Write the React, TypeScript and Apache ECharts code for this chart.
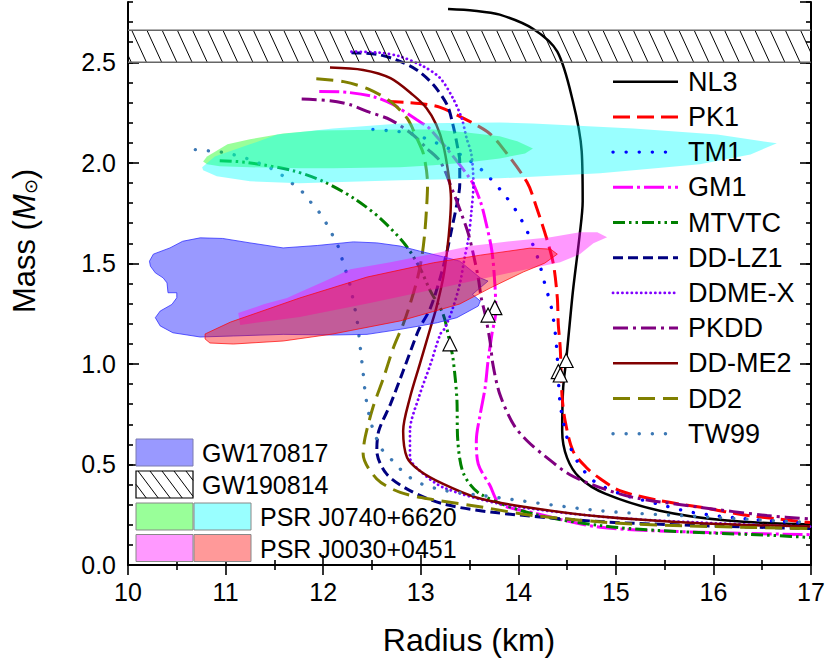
import React, { useEffect, useRef } from "react";
import * as echarts from "echarts";

// ---------------- data ----------------
const radiusMin = 10;
const radiusMax = 17;
const massMin = 0;
const massMax = 2.8;

const eosNames = ["NL3", "PK1", "TM1", "GM1", "MTVTC", "DD-LZ1", "DDME-X", "PKDD", "DD-ME2", "DD2", "TW99"];

const NL3 = [[13.28, 2.765], [13.55, 2.757], [13.81, 2.737], [14.15, 2.667], [14.40, 2.553], [14.56, 2.305], [14.65, 2.057], [14.66, 1.809], [14.63, 1.645], [14.56, 1.362], [14.52, 1.164], [14.49, 1.015], [14.46, 0.881], [14.45, 0.667], [14.50, 0.533], [14.63, 0.434], [14.89, 0.355], [15.45, 0.270], [16.14, 0.221], [16.99, 0.201]];
const PK1 = [[12.65, 2.305], [12.99, 2.295], [13.20, 2.276], [13.42, 2.226], [13.68, 2.156], [13.81, 2.092], [14.09, 1.903], [14.19, 1.774], [14.29, 1.625], [14.36, 1.496], [14.40, 1.328], [14.41, 1.198], [14.43, 1.079], [14.44, 0.94], [14.45, 0.831], [14.48, 0.717], [14.56, 0.568], [14.70, 0.484], [14.84, 0.429], [15.04, 0.370], [15.45, 0.320], [15.96, 0.280], [16.30, 0.250], [16.99, 0.211]];
const TM1 = [[12.51, 2.166], [12.65, 2.161], [12.90, 2.146], [13.17, 2.097], [13.42, 2.037], [13.63, 1.963], [13.82, 1.864], [13.98, 1.760], [14.10, 1.650], [14.20, 1.527], [14.27, 1.402], [14.34, 1.278], [14.38, 1.149], [14.40, 1.030], [14.43, 0.800], [14.50, 0.633], [14.60, 0.519], [14.77, 0.419], [15.04, 0.355], [15.42, 0.305], [15.79, 0.261], [16.30, 0.231], [16.99, 0.206]];
const GM1 = [[11.96, 2.355], [12.24, 2.351], [12.51, 2.330], [12.72, 2.289], [12.96, 2.214], [13.10, 2.166], [13.51, 1.918], [13.61, 1.810], [13.67, 1.700], [13.73, 1.560], [13.76, 1.397], [13.77, 1.263], [13.73, 1.149], [13.69, 1.015], [13.66, 0.881], [13.61, 0.750], [13.57, 0.618], [13.59, 0.502], [13.71, 0.395], [13.81, 0.305], [14.15, 0.260], [14.84, 0.188], [15.86, 0.163], [16.99, 0.151]];
const MTVTC = [[10.94, 2.011], [11.22, 2.002], [11.69, 1.961], [12.00, 1.908], [12.31, 1.825], [12.58, 1.726], [12.84, 1.594], [12.99, 1.478], [13.10, 1.362], [13.23, 1.247], [13.30, 1.100], [13.33, 1.031], [13.37, 0.833], [13.38, 0.618], [13.44, 0.453], [13.61, 0.353], [14.15, 0.254], [14.84, 0.196], [15.45, 0.171], [16.65, 0.146], [16.99, 0.137]];
const DDLZ1 = [[12.29, 2.548], [12.55, 2.540], [12.75, 2.512], [12.96, 2.462], [13.13, 2.388], [13.27, 2.289], [13.33, 2.190], [13.38, 2.073], [13.40, 2.007], [13.40, 1.892], [13.37, 1.793], [13.32, 1.676], [13.27, 1.561], [13.20, 1.428], [13.10, 1.279], [12.99, 1.180], [12.96, 1.147], [12.82, 0.965], [12.69, 0.800], [12.57, 0.667], [12.55, 0.568], [12.65, 0.453], [12.89, 0.370], [13.23, 0.304], [13.74, 0.262], [14.84, 0.216], [15.86, 0.196], [16.99, 0.181]];
const DDMEX = [[12.29, 2.553], [12.58, 2.548], [12.79, 2.529], [13.03, 2.479], [13.20, 2.421], [13.33, 2.322], [13.42, 2.222], [13.47, 2.123], [13.52, 2.041], [13.54, 1.892], [13.52, 1.759], [13.49, 1.627], [13.45, 1.528], [13.40, 1.396], [13.33, 1.279], [13.25, 1.180], [13.20, 1.147], [13.10, 0.998], [12.98, 0.833], [12.89, 0.667], [12.89, 0.535], [12.99, 0.469], [13.23, 0.386], [13.81, 0.305], [14.84, 0.241], [15.86, 0.211], [16.99, 0.191]];
const PKDD = [[11.78, 2.317], [12.07, 2.309], [12.28, 2.289], [12.45, 2.256], [12.69, 2.214], [12.92, 2.140], [13.06, 2.073], [13.20, 2.007], [13.33, 1.859], [13.42, 1.743], [13.49, 1.644], [13.54, 1.544], [13.59, 1.428], [13.62, 1.329], [13.66, 1.247], [13.71, 1.114], [13.74, 0.998], [13.81, 0.850], [13.95, 0.700], [14.09, 0.618], [14.29, 0.535], [14.53, 0.449], [14.84, 0.385], [15.18, 0.336], [15.86, 0.287], [16.55, 0.246], [16.99, 0.229]];
const DDME2 = [[12.07, 2.474], [12.41, 2.462], [12.69, 2.421], [12.92, 2.338], [13.06, 2.272], [13.16, 2.190], [13.23, 2.090], [13.28, 1.958], [13.31, 1.825], [13.30, 1.710], [13.27, 1.561], [13.23, 1.428], [13.16, 1.279], [13.10, 1.180], [12.99, 0.998], [12.89, 0.833], [12.82, 0.667], [12.86, 0.535], [12.99, 0.469], [13.23, 0.403], [13.57, 0.336], [14.09, 0.287], [14.84, 0.241], [15.86, 0.208], [16.99, 0.191]];
const DD2 = [[11.93, 2.418], [12.21, 2.404], [12.46, 2.368], [12.69, 2.305], [12.86, 2.222], [12.96, 2.123], [13.03, 2.041], [13.07, 1.892], [13.06, 1.776], [13.04, 1.644], [13.01, 1.528], [12.96, 1.412], [12.89, 1.296], [12.82, 1.197], [12.72, 1.081], [12.62, 0.932], [12.51, 0.783], [12.43, 0.634], [12.41, 0.552], [12.55, 0.428], [12.79, 0.361], [13.13, 0.325], [13.64, 0.287], [14.15, 0.246], [15.18, 0.204], [16.99, 0.181]];
const TW99 = [[10.69, 2.066], [10.82, 2.060], [10.95, 2.054], [11.08, 2.041], [11.22, 2.021], [11.34, 1.999], [11.46, 1.974], [11.58, 1.938], [11.69, 1.895], [11.79, 1.854], [11.88, 1.800], [11.96, 1.754], [12.03, 1.701], [12.09, 1.647], [12.15, 1.589], [12.19, 1.528], [12.23, 1.467], [12.27, 1.403], [12.30, 1.337], [12.35, 1.209], [12.38, 1.084], [12.41, 0.955], [12.44, 0.826], [12.50, 0.692], [12.60, 0.577], [12.71, 0.519], [12.79, 0.477], [12.89, 0.435], [13.01, 0.403], [13.25, 0.370], [13.64, 0.345], [14.84, 0.270], [15.86, 0.241], [16.99, 0.211]];

const eosCurves = [NL3, PK1, TM1, GM1, MTVTC, DDLZ1, DDMEX, PKDD, DDME2, DD2, TW99];

// direct Urca onset markers (radius, mass)
const urcaPoints = [[13.76, 1.28], [13.69, 1.243], [13.30, 1.10], [14.49, 1.017], [14.41, 0.962], [14.43, 0.945]];

const obsLabels = ["GW170817", "GW190814", "PSR J0740+6620", "PSR J0030+0451"];
const gw190814Mass = [2.5, 2.66];
const gw170817 = [[10.22, 1.511], [10.26, 1.546], [10.43, 1.577], [10.56, 1.610], [10.74, 1.627], [10.97, 1.624], [11.25, 1.602], [11.59, 1.577], [11.94, 1.589], [12.31, 1.607], [12.55, 1.602], [12.79, 1.586], [12.99, 1.561], [13.27, 1.528], [13.40, 1.511], [13.61, 1.428], [13.69, 1.412], [13.53, 1.346], [13.61, 1.313], [13.59, 1.288], [13.37, 1.230], [13.17, 1.205], [12.99, 1.189], [12.79, 1.172], [12.45, 1.147], [12.10, 1.144], [11.59, 1.147], [11.08, 1.139], [10.74, 1.134], [10.46, 1.155], [10.33, 1.189], [10.28, 1.230], [10.33, 1.263], [10.45, 1.296], [10.50, 1.329], [10.50, 1.354], [10.41, 1.354], [10.40, 1.403], [10.36, 1.428], [10.28, 1.453], [10.23, 1.486]];
const j0740Green = [[10.77, 2.007], [10.81, 2.032], [11.02, 2.092], [11.25, 2.117], [11.59, 2.146], [11.94, 2.161], [12.79, 2.166], [13.13, 2.166], [13.47, 2.151], [13.81, 2.132], [13.99, 2.107], [14.15, 2.072], [14.07, 2.047], [13.81, 2.022], [13.47, 2.002], [13.13, 1.988], [12.79, 1.978], [12.10, 1.973], [11.76, 1.973], [11.25, 1.978], [10.94, 1.983], [10.81, 1.993]];
const j0740Cyan = [[10.76, 1.978], [10.89, 2.032], [11.25, 2.092], [11.53, 2.141], [12.10, 2.171], [12.79, 2.196], [13.81, 2.201], [14.15, 2.196], [15.18, 2.171], [16.04, 2.141], [16.65, 2.097], [16.38, 2.042], [15.86, 1.993], [14.84, 1.948], [13.81, 1.923], [12.79, 1.913], [11.76, 1.898], [11.25, 1.908], [10.91, 1.933], [10.77, 1.963]];
const j0030Magenta = [[11.13, 1.253], [11.40, 1.298], [11.63, 1.328], [11.76, 1.357], [12.02, 1.412], [12.28, 1.471], [12.69, 1.506], [13.10, 1.546], [13.51, 1.586], [13.92, 1.610], [14.33, 1.630], [14.63, 1.655], [14.81, 1.655], [14.91, 1.630], [14.77, 1.600], [14.63, 1.546], [14.43, 1.506], [13.81, 1.442], [13.20, 1.377], [12.48, 1.303], [11.76, 1.233], [11.15, 1.194]];
const j0030Red = [[10.79, 1.149], [11.05, 1.208], [11.76, 1.328], [12.45, 1.432], [13.13, 1.503], [13.61, 1.541], [14.12, 1.576], [14.33, 1.571], [14.40, 1.546], [14.27, 1.501], [14.05, 1.457], [13.71, 1.377], [13.40, 1.298], [12.79, 1.214], [12.10, 1.149], [11.59, 1.114], [11.08, 1.099], [10.84, 1.104], [10.79, 1.124]];

// ---------------- styles ----------------
const FONT = "'Liberation Sans', Arial, Helvetica, sans-serif";
const lineStyles: any[] = [
  { color: "#000000", width: 2.5, type: "solid", cap: "butt" },
  { color: "#FF0000", width: 3, type: [17, 7], cap: "butt" },
  { color: "#0000FF", width: 3.4, type: [0.1, 13], cap: "round" },
  { color: "#FF00FF", width: 3, type: [20, 4, 3, 4], cap: "butt" },
  { color: "#008000", width: 3, type: [12, 4, 2.5, 4, 2.5, 4], cap: "butt" },
  { color: "#000080", width: 3, type: [10, 5], cap: "butt" },
  { color: "#8000FF", width: 2.8, type: [0.1, 4.6], cap: "round" },
  { color: "#800080", width: 3, type: [15, 5, 3, 5], cap: "butt" },
  { color: "#800000", width: 2.5, type: "solid", cap: "butt" },
  { color: "#808000", width: 3, type: [17, 8], cap: "butt" },
  { color: "#3C78B4", width: 3.4, type: [0.1, 13], cap: "round" },
];

function polygonSeries(name: string, pts: number[][], fill: string, stroke: string | null, z: number) {
  return {
    type: "custom",
    name,
    silent: true,
    z,
    xAxisIndex: 0,
    yAxisIndex: 0,
    data: [pts[0]],
    renderItem: (_p: any, api: any) => ({
      type: "polygon",
      shape: { points: pts.map((p) => api.coord(p)) },
      style: { fill, stroke: stroke || "none", lineWidth: stroke ? 1 : 0 },
    }),
  };
}

function hatchLines(left: number, top: number, right: number, bottom: number, step: number, slope: number, phase: number, color: string, lw: number) {
  const h = bottom - top;
  const out: any[] = [];
  const startX = left + phase - Math.ceil((h * slope) / step + 1) * step;
  for (let xt = startX; xt < right; xt += step) {
    let x1 = xt, y1 = top, x2 = xt + h * slope, y2 = bottom;
    if (x1 < left) { y1 = top + (left - xt) / slope; x1 = left; }
    if (x2 > right) { y2 = top + (right - xt) / slope; x2 = right; }
    if (y2 - y1 < 0.5) continue;
    out.push({ type: "line", shape: { x1, y1, x2, y2 }, style: { stroke: color, lineWidth: lw } });
  }
  return out;
}

export default function App() {
  const ref = useRef<HTMLDivElement>(null);
  useEffect(() => {
    if (!ref.current) return;
    document.body.style.margin = "0";
    const chart = echarts.init(ref.current, null, { renderer: "svg" });

    const axisLine = { show: true, lineStyle: { color: "#000", width: 2 } };
    const majorTick = (len: number) => ({ show: true, inside: true, length: len, lineStyle: { color: "#000", width: 1.6 } });

    const curveSeries = eosCurves.map((d, i) => ({
      type: "line",
      name: eosNames[i],
      data: d,
      xAxisIndex: 0,
      yAxisIndex: 0,
      showSymbol: false,
      symbol: "none",
      smooth: 0.3,
      silent: true,
      z: 2,
      lineStyle: { color: lineStyles[i].color, width: lineStyles[i].width, type: lineStyles[i].type, cap: lineStyles[i].cap },
    }));

    const hatchSeries = {
      type: "custom",
      name: "GW190814",
      silent: true,
      z: 6,
      xAxisIndex: 0,
      yAxisIndex: 0,
      data: [[radiusMin, gw190814Mass[0], radiusMax, gw190814Mass[1]]],
      encode: { x: [0, 2], y: [1, 3] },
      renderItem: (_p: any, api: any) => {
        const tl = api.coord([api.value(0), api.value(3)]);
        const br = api.coord([api.value(2), api.value(1)]);
        const children = hatchLines(tl[0], tl[1], br[0], br[1], 15.2, 0.46, 3.7, "#000", 1);
        children.push({ type: "line", shape: { x1: tl[0], y1: tl[1], x2: br[0], y2: tl[1] }, style: { stroke: "#666", lineWidth: 1.5 } });
        children.push({ type: "line", shape: { x1: tl[0], y1: br[1], x2: br[0], y2: br[1] }, style: { stroke: "#666", lineWidth: 1.5 } });
        return { type: "group", children };
      },
    };

    // right legend
    const legendX1 = 613, legendX2 = 678, legendTextX = 688, legendY0 = 81.7, legendDy = 35.2;
    const legendGraphics: any[] = [];
    eosNames.forEach((n, i) => {
      const y = legendY0 + i * legendDy;
      const ls = lineStyles[i];
      legendGraphics.push({
        type: "line",
        shape: { x1: legendX1, y1: y, x2: legendX2, y2: y },
        style: { stroke: ls.color, lineWidth: ls.width, lineDash: ls.type === "solid" ? null : ls.type, lineCap: ls.cap },
        z: 20,
      });
      legendGraphics.push({
        type: "text",
        x: legendTextX,
        y,
        style: { text: n, fontSize: 27, fontFamily: FONT, fill: "#000", textVerticalAlign: "middle", textAlign: "left" },
        z: 20,
      });
    });

    // bottom-left legend
    const bx1 = 136, bw = 57, bx2 = 194;
    const boxH = 27;
    const rows = [439, 471, 503, 534.5];
    const boxBorder = "#888";
    legendGraphics.push({ type: "rect", shape: { x: bx1, y: rows[0], width: bw, height: boxH }, style: { fill: "#9999FF", stroke: "#7a7ab0", lineWidth: 1 }, z: 20 });
    legendGraphics.push({ type: "rect", shape: { x: bx1, y: rows[1], width: bw, height: boxH }, style: { fill: "#fff", stroke: "#000", lineWidth: 1.2 }, z: 20 });
    hatchLines(bx1, rows[1], bx1 + bw, rows[1] + boxH, 12, 0.75, 2, "#000", 1).forEach((l) => legendGraphics.push({ ...l, z: 21 }));
    legendGraphics.push({ type: "rect", shape: { x: bx1, y: rows[2], width: bw, height: boxH }, style: { fill: "#99FF99", stroke: boxBorder, lineWidth: 1 }, z: 20 });
    legendGraphics.push({ type: "rect", shape: { x: bx2, y: rows[2], width: bw, height: boxH }, style: { fill: "#99FFFF", stroke: boxBorder, lineWidth: 1 }, z: 20 });
    legendGraphics.push({ type: "rect", shape: { x: bx1, y: rows[3], width: bw, height: boxH }, style: { fill: "#FF99FF", stroke: boxBorder, lineWidth: 1 }, z: 20 });
    legendGraphics.push({ type: "rect", shape: { x: bx2, y: rows[3], width: bw, height: boxH }, style: { fill: "#FF9999", stroke: boxBorder, lineWidth: 1 }, z: 20 });
    const textX = [202, 202, 260, 260];
    obsLabels.forEach((t, i) => {
      legendGraphics.push({
        type: "text",
        x: textX[i],
        y: rows[i] + boxH / 2 + 0.5,
        style: { text: t, fontSize: 25, fontFamily: FONT, fill: "#000", textVerticalAlign: "middle", textAlign: "left" },
        z: 21,
      });
    });

    // axis titles
    legendGraphics.push({
      type: "text",
      x: 469,
      y: 640,
      style: { text: "Radius (km)", fontSize: 32, fontFamily: FONT, fill: "#000", textAlign: "center", textVerticalAlign: "middle" },
      z: 20,
    });
    legendGraphics.push({
      type: "text",
      x: 24,
      y: 241,
      rotation: Math.PI / 2,
      style: {
        text: "Mass ({i|M}{s|⊙})",
        fontSize: 31,
        fontFamily: FONT,
        fill: "#000",
        textAlign: "center",
        textVerticalAlign: "middle",
        rich: {
          i: { fontSize: 31, fontStyle: "italic", fontFamily: FONT, fill: "#000" },
          s: { fontSize: 18, fontFamily: FONT, fill: "#000", verticalAlign: "bottom", padding: [14, 0, 0, 0], lineHeight: 18 },
        },
      },
      z: 20,
    });

    const option: any = {
      animation: false,
      backgroundColor: "#fff",
      textStyle: { fontFamily: FONT },
      grid: { left: 128, right: 19, top: 2, bottom: 97, containLabel: false },
      xAxis: [
        {
          type: "value", min: radiusMin, max: radiusMax, interval: 1, position: "bottom",
          axisLine, axisTick: majorTick(10),
          minorTick: { show: true, splitNumber: 2, length: 5, lineStyle: { color: "#000", width: 1.6 } },
          axisLabel: { fontSize: 25, color: "#000", margin: 14, fontFamily: FONT },
          splitLine: { show: false }, minorSplitLine: { show: false },
        },
        {
          type: "value", min: radiusMin, max: radiusMax, interval: 1, position: "top",
          axisLine, axisTick: majorTick(10),
          minorTick: { show: true, splitNumber: 2, length: 5, lineStyle: { color: "#000", width: 1.6 } },
          axisLabel: { show: false }, splitLine: { show: false },
        },
      ],
      yAxis: [
        {
          type: "value", min: massMin, max: massMax, interval: 0.5, position: "left",
          axisLine, axisTick: majorTick(11),
          axisLabel: { fontSize: 25, color: "#000", margin: 12, fontFamily: FONT, showMaxLabel: false, formatter: (v: number) => v.toFixed(1) },
          splitLine: { show: false },
        },
        {
          type: "value", min: massMin, max: massMax, interval: 0.1, position: "left",
          axisLine: { show: false }, axisTick: { show: true, inside: true, length: 5, lineStyle: { color: "#000", width: 1.6 } },
          axisLabel: { show: false }, splitLine: { show: false },
        },
        {
          type: "value", min: massMin, max: massMax, interval: 0.5, position: "right",
          axisLine, axisTick: majorTick(11),
          axisLabel: { show: false }, splitLine: { show: false },
        },
        {
          type: "value", min: massMin, max: massMax, interval: 0.1, position: "right",
          axisLine: { show: false }, axisTick: { show: true, inside: true, length: 5, lineStyle: { color: "#000", width: 1.6 } },
          axisLabel: { show: false }, splitLine: { show: false },
        },
      ],
      series: [
        ...curveSeries,
        polygonSeries("PSR J0740+6620 (a)", j0740Green, "rgba(0,255,0,0.4)", null, 3),
        polygonSeries("PSR J0740+6620 (b)", j0740Cyan, "rgba(0,255,255,0.4)", null, 3),
        polygonSeries("GW170817", gw170817, "rgba(0,0,255,0.4)", "rgba(40,40,255,0.75)", 3),
        polygonSeries("PSR J0030+0451 (a)", j0030Magenta, "rgba(255,0,255,0.4)", null, 3),
        polygonSeries("PSR J0030+0451 (b)", j0030Red, "rgba(255,0,0,0.4)", "rgba(255,0,0,0.7)", 3),
        hatchSeries,
        {
          type: "scatter",
          name: "Urca",
          data: urcaPoints,
          symbol: "triangle",
          symbolSize: 14,
          z: 8,
          silent: true,
          itemStyle: { color: "#fff", borderColor: "#000", borderWidth: 1.2, opacity: 1 },
        },
      ],
      graphic: legendGraphics,
    };
    chart.setOption(option);
    return () => chart.dispose();
  }, []);

  return <div ref={ref} style={{ width: 830, height: 662 }} />;
}
